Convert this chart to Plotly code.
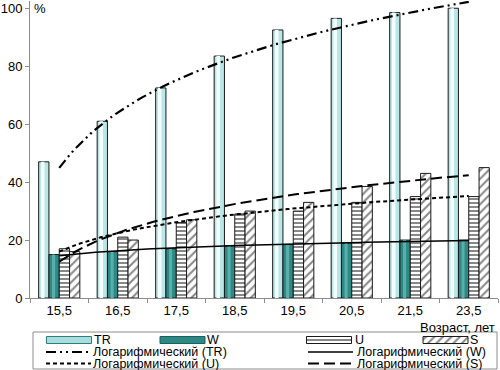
import numpy as np
import plotly.graph_objects as go

ages = ["15,5", "16,5", "17,5", "18,5", "19,5", "20,5", "21,5", "23,5"]
tr = [47, 61, 72.5, 83.5, 92.5, 96.5, 98.5, 100]
w = [15, 16, 17, 18, 18.5, 19, 20, 20]
u = [17, 21, 26, 29, 30, 33, 35, 35]
s = [16, 20, 27, 30, 33, 38.5, 43, 45]
y_ticks = [0, 20, 40, 60, 80, 100]
series_names = ["TR", "W", "U", "S"]

FONT = "Liberation Sans, Arial, sans-serif"
W_, H_ = 500, 370
pos = np.arange(len(ages))
bw = 0.176
outline = dict(color="#1a1a1a", width=1)

u_pattern = dict(shape="-", fgcolor="#111111", bgcolor="white", size=4, solidity=0.5)
s_pattern = dict(shape="/", fgcolor="#111111", bgcolor="white", size=6, solidity=0.35)
tr_color, tr_hi = "#b9e6e6", "#f4fcfc"
w_color, w_hi = "#2c8985", "#5aaeab"
line_styles = {
    "TR": dict(color="black", width=2.2, dash="10px,4px,2px,4px,2px,4px"),
    "W": dict(color="black", width=1.5, dash="solid"),
    "U": dict(color="black", width=2, dash="4px,3px"),
    "S": dict(color="black", width=2, dash="11px,5px"),
}

fig = go.Figure()

# bars
fig.add_trace(go.Bar(x=pos, y=tr, width=bw, offset=-2 * bw, name="TR",
                     marker=dict(color=tr_color, line=outline)))
fig.add_trace(go.Bar(x=pos, y=tr, width=bw * 0.35, offset=-2 * bw + bw * 0.22,
                     marker=dict(color=tr_hi, line=dict(width=0)), hoverinfo="skip"))
fig.add_trace(go.Bar(x=pos, y=w, width=bw, offset=-bw, name="W",
                     marker=dict(color=w_color, line=outline)))
fig.add_trace(go.Bar(x=pos, y=w, width=bw * 0.3, offset=-bw + bw * 0.3,
                     marker=dict(color=w_hi, line=dict(width=0)), hoverinfo="skip"))
fig.add_trace(go.Bar(x=pos, y=u, width=bw, offset=0, name="U",
                     marker=dict(color="white", line=outline, pattern=u_pattern)))
fig.add_trace(go.Bar(x=pos, y=s, width=bw, offset=bw, name="S",
                     marker=dict(color="white", line=outline, pattern=s_pattern)))

# logarithmic trendlines fitted to the data
t = np.linspace(1, len(ages), 80)
for name, vals in zip(series_names, [tr, w, u, s]):
    a, b = np.polyfit(np.log(pos + 1), np.array(vals, dtype=float), 1)
    fig.add_trace(go.Scatter(x=t - 1, y=a * np.log(t) + b, mode="lines",
                             line=line_styles[name],
                             name=f"Логарифмический ({name})", hoverinfo="skip"))

# ---- hand-built legend (pixel-unit helper axes covering the legend strip) ----
leg = dict(xaxis="x2", yaxis="y2", hoverinfo="skip")
bar_keys = [
    ("TR", 46.5, 45, 340, dict(color="#a9dcdc", line=dict(color="#2c7f7c", width=1))),
    ("W", 160, 45, 340, dict(color=w_color, line=dict(color="#1c5f5c", width=1))),
    ("U", 306.5, 45, 340, dict(color="white", line=outline, pattern=u_pattern)),
    ("S", 423, 45, 340, dict(color="white", line=outline, pattern=s_pattern)),
]
for name, x0, wd, yy, mk in bar_keys:
    fig.add_trace(go.Bar(orientation="h", y=[yy], x=[wd], base=[x0], width=7,
                         marker=mk, **leg))
line_keys = [("TR", 46, 352), ("W", 308, 352), ("U", 46, 363.5), ("S", 308, 363.5)]
for name, x0, yy in line_keys:
    fig.add_trace(go.Scatter(x=[x0, x0 + 45], y=[yy, yy], mode="lines",
                             line=line_styles[name], **leg))

text_keys = [("TR", 93, 340), ("W", 206, 340), ("U", 354, 340), ("S", 469, 340),
             ("Логарифмический (TR)", 92, 352), ("Логарифмический (W)", 356, 352),
             ("Логарифмический (U)", 92, 363.5), ("Логарифмический (S)", 356, 363.5)]
annotations = [
    dict(text=txt, xref="x2", yref="y2", x=x, y=y, xanchor="left", yanchor="middle",
         showarrow=False, font=dict(size=12.5), borderpad=0)
    for txt, x, y in text_keys
]
annotations += [
    dict(text="Возраст, лет", xref="paper", yref="paper", x=497 / W_, y=(H_ - 327) / H_,
         xanchor="right", yanchor="middle", showarrow=False, font=dict(size=13)),
    dict(text="%", xref="paper", yref="paper", x=33 / W_, y=1.0,
         xanchor="left", yanchor="top", showarrow=False, font=dict(size=13), borderpad=0),
]

fig.update_layout(
    width=W_, height=H_,
    margin=dict(l=0, r=0, t=0, b=0, autoexpand=False),
    paper_bgcolor="white", plot_bgcolor="rgba(0,0,0,0)",
    barmode="overlay", showlegend=False,
    font=dict(family=FONT, size=12, color="black"),
    xaxis=dict(domain=[30 / W_, 498 / W_], range=[-0.5, len(ages) - 0.5],
               tickvals=list(pos), ticktext=ages, automargin=False,
               ticks="", showgrid=False, zeroline=False, showline=True,
               linecolor="#8c8c8c", linewidth=1, tickfont=dict(size=13),
               minor=dict(tick0=-0.5, dtick=1, ticks="outside", ticklen=4,
                          tickcolor="#8c8c8c", showgrid=False)),
    yaxis=dict(domain=[(H_ - 298) / H_, (H_ - 1) / H_], range=[0, 102.5],
               tickvals=y_ticks, ticks="outside", ticklen=4, automargin=False,
               tickcolor="#8c8c8c", showgrid=False, zeroline=False, showline=True,
               linecolor="#8c8c8c", linewidth=1, tickfont=dict(size=13)),
    xaxis2=dict(domain=[0, 1], range=[0, W_], visible=False, fixedrange=True,
                anchor="y2", automargin=False),
    yaxis2=dict(domain=[0, 40 / H_], range=[H_, H_ - 40], visible=False, fixedrange=True,
                anchor="x2", automargin=False),
    shapes=[dict(type="rect", xref="paper", yref="paper",
                 x0=33 / W_, x1=497 / W_, y0=1 / H_, y1=(H_ - 332) / H_,
                 line=dict(color="#8c8c8c", width=1), fillcolor="rgba(0,0,0,0)",
                 layer="below")],
    annotations=annotations,
)

fig.write_html("out.html",
               config={"displayModeBar": False},
               post_script="document.body.style.margin='0px';"
                           "document.body.style.overflow='hidden';")
